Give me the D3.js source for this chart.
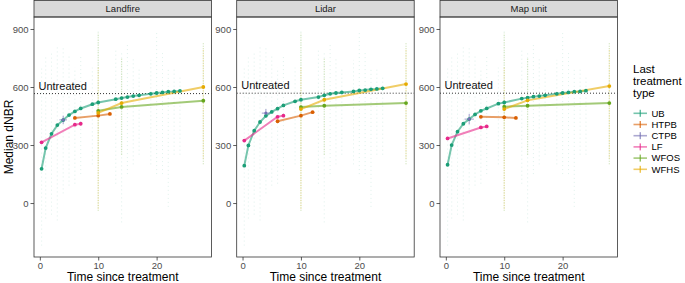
<!DOCTYPE html>
<html>
<head>
<meta charset="utf-8">
<script src="https://cdn.jsdelivr.net/npm/d3@7"></script>
<style>
  html, body { margin: 0; padding: 0; background: #fff; }
  svg { display: block; font-family: "Liberation Sans", Arial, sans-serif; }
</style>
</head>
<body>
<svg id="chart"></svg>
<script>
// ================================
// DATA
// ================================
const panels = ["Landfire", "Lidar", "Map unit"];
const treatments = ["UB", "HTPB", "CTPB", "LF", "WFOS", "WFHS"];
const treatmentColors = ["#1B9E77", "#D95F02", "#7570B3", "#E7298A", "#66A61E", "#E6AB02"];

const xTicks = [0, 10, 20];
const yTicks = [0, 300, 600, 900];

// untreated median per panel
const untreated = [566, 568, 568];

// UB medians
const ubTimes = [0.3, 1, 2, 3, 4, 5, 6, 7, 9, 10, 13, 14, 15, 16, 17, 19, 20, 21, 22, 23, 24];
const ubLandfire = [177, 284, 358, 403, 429, 455, 474, 489, 511, 520, 537, 543, 548, 553, 557, 565, 569, 572, 576, 577, 580];
const ubLidar    = [193, 298, 374, 419, 451, 471, 488, 505, 526, 534, 548, 557, 565, 569, 572, 577, 582, 584, 588, 590, 593];
const ubMapUnit  = [198, 300, 369, 410, 434, 458, 477, 489, 514, 520, 540, 545, 550, 553, 557, 565, 569, 572, 576, 577, 581];

const htpbTimes = [6, 10, 12];
const htpbLandfire = [440, 452, 461];
const htpbLidar    = [423, 452, 470];
const htpbMapUnit  = [446, 443, 440];

const ctpbTimes = [4];
const ctpbLandfire = [430];
const ctpbLidar    = [465];
const ctpbMapUnit  = [434];
const ctpbTimeErr = [0.65, 0.7, 0.8];
const ctpbValueErr = [22, 21, 27];

const lfTimes = [0.3, 6, 7];
const lfLandfire = [314, 405, 410];
const lfLidar    = [323, 446, 452];
const lfMapUnit  = [334, 391, 396];

const wfosTimes = [10, 14, 28];
const wfosLandfire = [477, 497, 529];
const wfosLidar    = [496, 503, 517];
const wfosMapUnit  = [498, 503, 517];

const wfhsTimes = [10, 14, 28];
const wfhsLandfire = [466, 517, 600];
const wfhsLidar    = [486, 534, 615];
const wfhsMapUnit  = [486, 531, 605];

// spread of the raw observations behind each median: [time, low, high]
const ubSpread = [
  [0.3, -220, 700], [1, -80, 760], [2, -60, 780], [3, -90, 820], [4, 50, 800],
  [5, 90, 760], [6, 100, 700], [7, 150, 760], [9, 200, 700], [10, 220, 900],
  [13, 100, 800], [14, -100, 780], [15, 150, 820], [16, 200, 750], [17, 250, 700],
  [19, 200, 740], [20, 150, 880], [21, 150, 780], [22, -20, 700], [23, 250, 700], [24, 250, 650]
];
const wfosSpread = [[10, -40, 880], [14, 250, 750], [28, 200, 830]];
const wfhsSpread = [[10, -30, 700], [28, 230, 800]];

// ================================
// BUILD SERIES
// ================================
const seriesByPanel = [
  [ubLandfire, htpbLandfire, ctpbLandfire, lfLandfire, wfosLandfire, wfhsLandfire],
  [ubLidar, htpbLidar, ctpbLidar, lfLidar, wfosLidar, wfhsLidar],
  [ubMapUnit, htpbMapUnit, ctpbMapUnit, lfMapUnit, wfosMapUnit, wfhsMapUnit]
];
const timesByTreatment = [ubTimes, htpbTimes, ctpbTimes, lfTimes, wfosTimes, wfhsTimes];
const spreadByTreatment = [ubSpread, [], [], [], wfosSpread, wfhsSpread];

// ================================
// SVG + LAYOUT
// ================================
const width = 685;
const height = 283;

const svg = d3.select("#chart")
  .attr("width", width)
  .attr("height", height);

const panelLefts = [34, 236.7, 440];
const panelWidth = 177.5;
const stripTop = 0.5;
const panelTop = 17;
const panelBottom = 257;

const y = d3.scaleLinear()
  .domain([-279, 962])
  .range([panelBottom, panelTop]);

// ================================
// PANELS
// ================================
panels.forEach((name, p) => {
  const left = panelLefts[p];
  const x = d3.scaleLinear()
    .domain([-1, 29.4])
    .range([left, left + panelWidth]);

  const g = svg.append("g").attr("class", "panel");

  // strip
  g.append("rect")
    .attr("x", left)
    .attr("y", stripTop)
    .attr("width", panelWidth)
    .attr("height", panelTop - stripTop)
    .attr("fill", "#D9D9D9")
    .attr("stroke", "#333")
    .attr("stroke-width", 0.8);

  g.append("text")
    .attr("x", left + panelWidth / 2)
    .attr("y", (stripTop + panelTop) / 2)
    .attr("dy", "0.35em")
    .attr("text-anchor", "middle")
    .attr("font-size", "9.5px")
    .attr("fill", "#1A1A1A")
    .text(name);

  // clip for the data layer
  const clipId = "clip" + p;
  svg.append("clipPath").attr("id", clipId)
    .append("rect")
    .attr("x", left).attr("y", panelTop)
    .attr("width", panelWidth).attr("height", panelBottom - panelTop);

  const data = g.append("g").attr("clip-path", `url(#${clipId})`);

  // raw observation spread (faint)
  treatments.forEach((t, i) => {
    data.selectAll(null)
      .data(spreadByTreatment[i])
      .join("line")
      .attr("x1", d => x(d[0]))
      .attr("x2", d => x(d[0]))
      .attr("y1", d => y(d[1]))
      .attr("y2", d => y(d[2]))
      .attr("stroke", treatmentColors[i])
      .attr("stroke-width", i === 0 ? 0.9 : 1.2)
      .attr("stroke-dasharray", i === 0 ? "1,3" : "1,1.5")
      .attr("opacity", i === 0 ? 0.14 : 0.3);
  });

  // untreated reference line
  data.append("line")
    .attr("x1", left)
    .attr("x2", left + panelWidth)
    .attr("y1", y(untreated[p]))
    .attr("y2", y(untreated[p]))
    .attr("stroke", "#000")
    .attr("stroke-width", 0.8)
    .attr("stroke-dasharray", "1,2");

  g.append("text")
    .attr("x", left + 4.5)
    .attr("y", y(untreated[p]) - 4)
    .attr("font-size", "11px")
    .attr("fill", "#111")
    .text("Untreated");

  // lines
  const line = d3.line().x(d => x(d[0])).y(d => y(d[1]));
  treatments.forEach((t, i) => {
    const pts = timesByTreatment[i].map((tm, k) => [tm, seriesByPanel[p][i][k]]);
    if (pts.length > 1) {
      data.append("path")
        .datum(pts)
        .attr("d", line)
        .attr("fill", "none")
        .attr("stroke", treatmentColors[i])
        .attr("stroke-width", 2)
        .attr("stroke-opacity", 0.6);
    }
  });

  // CTPB error cross
  const cx = x(ctpbTimes[0]);
  const cy = y(seriesByPanel[p][2][0]);
  data.append("line")
    .attr("x1", x(ctpbTimes[0] - ctpbTimeErr[p]))
    .attr("x2", x(ctpbTimes[0] + ctpbTimeErr[p]))
    .attr("y1", cy).attr("y2", cy)
    .attr("stroke", treatmentColors[2])
    .attr("stroke-opacity", 0.7)
    .attr("stroke-width", 1);
  data.append("line")
    .attr("x1", cx).attr("x2", cx)
    .attr("y1", y(seriesByPanel[p][2][0] - ctpbValueErr[p]))
    .attr("y2", y(seriesByPanel[p][2][0] + ctpbValueErr[p]))
    .attr("stroke", treatmentColors[2])
    .attr("stroke-opacity", 0.7)
    .attr("stroke-width", 1);

  // points
  treatments.forEach((t, i) => {
    const pts = timesByTreatment[i].map((tm, k) => [tm, seriesByPanel[p][i][k]]);
    data.selectAll(null)
      .data(pts)
      .join("circle")
      .attr("cx", d => x(d[0]))
      .attr("cy", d => y(d[1]))
      .attr("r", i === 2 ? 1.6 : 1.9)
      .attr("fill", treatmentColors[i]);
  });

  // panel border
  g.append("rect")
    .attr("x", left)
    .attr("y", panelTop)
    .attr("width", panelWidth)
    .attr("height", panelBottom - panelTop)
    .attr("fill", "none")
    .attr("stroke", "#333")
    .attr("stroke-width", 0.8);

  // axes
  const xAxis = g.append("g")
    .attr("transform", `translate(0, ${panelBottom})`)
    .call(d3.axisBottom(x).tickValues(xTicks).tickSize(3.5).tickPadding(2));
  const yAxis = g.append("g")
    .attr("transform", `translate(${left}, 0)`)
    .call(d3.axisLeft(y).tickValues(yTicks).tickSize(3.5).tickPadding(2));

  [xAxis, yAxis].forEach(a => {
    a.select(".domain").remove();
    a.selectAll(".tick line").attr("stroke", "#333").attr("stroke-width", 0.8);
    a.selectAll(".tick text")
      .attr("fill", "#4D4D4D")
      .attr("font-size", "9.5px")
      .attr("font-family", "Liberation Sans, Arial, sans-serif");
  });

  // x title
  g.append("text")
    .attr("x", left + panelWidth / 2)
    .attr("y", 281)
    .attr("text-anchor", "middle")
    .attr("font-size", "12px")
    .attr("fill", "#000")
    .text("Time since treatment");
});

// y title
svg.append("text")
  .attr("transform", `translate(13, ${(panelTop + panelBottom) / 2}) rotate(-90)`)
  .attr("text-anchor", "middle")
  .attr("font-size", "12px")
  .attr("fill", "#000")
  .text("Median dNBR");

// ================================
// LEGEND
// ================================
const legend = svg.append("g")
  .attr("transform", "translate(633, 0)");

["Last", "treatment", "type"].forEach((w, i) => {
  legend.append("text")
    .attr("x", 0)
    .attr("y", 73 + i * 12)
    .attr("font-size", "11.5px")
    .attr("fill", "#000")
    .text(w);
});

const items = legend.selectAll(".legend-item")
  .data(treatments)
  .join("g")
  .attr("class", "legend-item")
  .attr("transform", (d, i) => `translate(0, ${113.3 + i * 11.2})`);

items.append("line")
  .attr("x1", 0.5).attr("x2", 14)
  .attr("y1", 0).attr("y2", 0)
  .attr("stroke", (d, i) => treatmentColors[i])
  .attr("stroke-width", 1.6)
  .attr("stroke-opacity", 0.6);

items.append("line")
  .attr("x1", 7.2).attr("x2", 7.2)
  .attr("y1", -3.5).attr("y2", 3.5)
  .attr("stroke", (d, i) => treatmentColors[i])
  .attr("stroke-width", 1);

items.append("text")
  .attr("x", 18.5)
  .attr("y", 0)
  .attr("dy", "0.35em")
  .attr("font-size", "9.5px")
  .attr("fill", "#000")
  .text(d => d);
</script>
</body>
</html>
